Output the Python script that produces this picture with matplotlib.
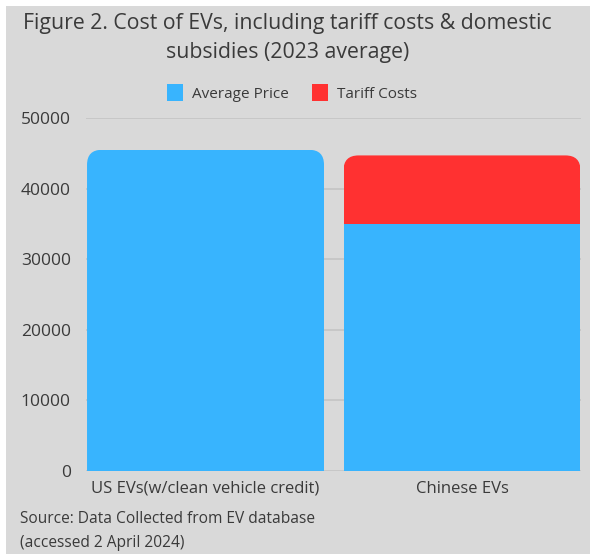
import numpy as np
import matplotlib
matplotlib.use("Agg")
import matplotlib.pyplot as plt
from matplotlib.patches import FancyBboxPatch, Rectangle

# data
categories = ["US EVs(w/clean vehicle credit)", "Chinese EVs"]
average_price = [45500, 35000]
tariff_costs = [0, 9700]
yticks = [0, 10000, 20000, 30000, 40000, 50000]

blue = "#38B4FE"
red = "#FF3131"
bg = "#D9D9D9"
txt = "#3a3a3a"

plt.rcParams['font.family'] = ['Open Sans', 'DejaVu Sans']

fig = plt.figure(figsize=(5.9, 5.54), dpi=100)
fig.patch.set_facecolor("white")
# grey panel with thin white margin top/left
fig.add_artist(Rectangle((6/590, 0), 1, 1 - 6/554, transform=fig.transFigure,
                         facecolor=bg, edgecolor="none", zorder=-10))

ax = fig.add_axes([86/590, 1 - 471/554, (581 - 86)/590, (471 - 118)/554])
ax.set_facecolor(bg)
x = np.arange(len(categories))
w = 0.924
b1 = ax.bar(x, average_price, width=w, color=blue, zorder=2)
b2 = ax.bar(x, tariff_costs, width=w, bottom=average_price, color=red, zorder=2)

ax.set_xlim(-0.466, 1.464)
ax.set_ylim(0, 50000)
ax.set_yticks(yticks)
ax.set_yticklabels([str(v) for v in yticks])
ax.set_xticks(x)
ax.set_xticklabels(categories)
ax.tick_params(length=0, colors=txt)
ax.tick_params(axis="y", pad=11, labelsize=12.5)
ax.tick_params(axis="x", pad=7, labelsize=12)
for s in ax.spines.values():
    s.set_visible(False)
ax.yaxis.grid(True, color="#c4c4c4", linewidth=1.2, zorder=0)
ax.set_axisbelow(True)

# rounded top corners: clip each bar stack with a rounded box
fig.canvas.draw()
px_x = ax.transData.transform((1, 0))[0] - ax.transData.transform((0, 0))[0]
px_y = ax.transData.transform((0, 1))[1] - ax.transData.transform((0, 0))[1]
r_px = 15
r = r_px / px_x
aspect = px_x / px_y
for i in range(len(categories)):
    top = average_price[i] + tariff_costs[i]
    left = x[i] - w / 2
    clip = FancyBboxPatch((left + r, -3 * r * aspect), w - 2 * r, top + 2 * r * aspect,
                          boxstyle="round,pad=%f" % r, mutation_aspect=aspect,
                          transform=ax.transData, facecolor="none", edgecolor="none")
    clip.set_clip_on(False)
    ax.add_patch(clip)
    b1[i].set_clip_path(clip)
    b2[i].set_clip_path(clip)

fig.text(0.487, 0.957, "Figure 2. Cost of EVs, including tariff costs & domestic",
         ha="center", va="center", fontsize=15.3, color=txt)
fig.text(0.487, 0.905, "subsidies (2023 average)",
         ha="center", va="center", fontsize=15.3, color=txt)

# legend
leg = ax.legend([b1[0], b2[1]], ["Average Price", "Tariff Costs"], loc="center",
                bbox_to_anchor=(292/590, 1 - 93/554), bbox_transform=fig.transFigure,
                ncol=2, frameon=False, fontsize=11, handlelength=1.05, handleheight=1.25,
                columnspacing=1.5, handletextpad=0.6, labelcolor=txt)

fig.text(20/590, 1 - 519/554, "Source: Data Collected from EV database",
         ha="left", va="center", fontsize=11.2, color=txt)
fig.text(20/590, 1 - 543/554, "(accessed 2 April 2024)",
         ha="left", va="center", fontsize=11.2, color=txt)

fig.savefig("out.png", dpi=100, facecolor=fig.get_facecolor())
